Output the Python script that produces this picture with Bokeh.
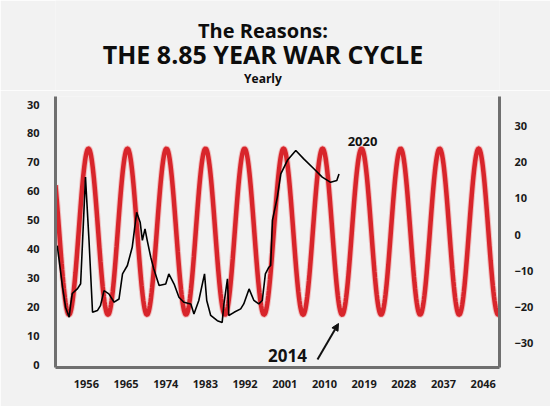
import numpy as np
from bokeh.plotting import figure
from bokeh.layouts import column
from bokeh.models import Range1d, LinearAxis, FixedTicker, Label, Arrow, NormalHead
from bokeh.embed import file_html
from bokeh.resources import INLINE

# ---- data ----
war_years = [1949.4, 1950.6, 1951.3, 1952.1, 1952.4, 1952.8, 1954.0, 1954.7, 1955.8, 1956.6,
             1957.4, 1958.5, 1959.2, 1960.0, 1961.1, 1962.3, 1963.4, 1964.2, 1965.3, 1966.4,
             1967.4, 1968.2, 1968.7, 1969.3, 1969.8, 1970.6, 1971.3, 1972.5, 1974.0, 1974.7,
             1975.9, 1977.0, 1978.1, 1979.7, 1980.4, 1981.5, 1982.8, 1983.3, 1984.2, 1985.7,
             1986.8, 1987.2, 1988.0, 1988.3, 1989.5, 1991.0, 1991.7, 1992.9, 1994.0, 1995.1,
             1995.9, 1996.6, 1997.4, 1997.8, 1998.2, 1999.3, 2000.1, 2001.6, 2003.5, 2005.3,
             2007.6, 2009.5, 2011.4, 2012.8, 2013.3]
war_index = [41.2, 26.8, 19.8, 16.4, 20.4, 24.6, 26.3, 28.0, 64.9, 43.0,
             18.1, 18.7, 20.4, 25.6, 24.5, 21.6, 22.7, 31.4, 34.3, 40.6,
             52.7, 49.3, 43.0, 47.0, 43.0, 37.2, 33.1, 27.4, 27.9, 31.4,
             27.9, 23.3, 21.6, 21.0, 17.5, 22.2, 31.4, 22.2, 17.0, 15.2,
             14.6, 21.0, 29.7, 17.0, 18.1, 19.3, 21.0, 26.2, 22.2, 21.0,
             22.2, 31.4, 33.7, 34.3, 49.9, 57.9, 66.0, 70.7, 74.1, 71.2,
             67.8, 64.9, 63.1, 63.7, 66.0]

cycle_period = 8.85        # years
cycle_trough_year = 2014.0
cycle_amplitude = 23.0
cycle_center = 0.8

x_ticks = [1956, 1965, 1974, 1983, 1992, 2001, 2010, 2019, 2028, 2037, 2046]
left_ticks = [0, 10, 20, 30, 40, 50, 60, 70, 80, 90]
left_tick_labels = {90: "30"}
right_ticks = [-30, -20, -10, 0, 10, 20, 30]

title1 = "The Reasons:"
title2 = "THE 8.85 YEAR WAR CYCLE"
subtitle = "Yearly"
note_2020 = "2020"
note_2014 = "2014"

# ---- layout ----
W, H = 550, 406
TH = 90                     # height of the title strip
FL, FR, FT, FB = 55, 499, 96, 367   # frame in page pixels
X0, X1 = 1949.0, 2049.7
Y0, Y1 = -1.0, 92.8
R0, R1 = -36.8, 38.2
BG = "#f2f2f2"
FONT = "Open Sans"

# ---- title strip ----
t = figure(width=W, height=TH, output_backend="svg", toolbar_location=None,
           x_range=Range1d(0, W), y_range=Range1d(TH, 0),
           min_border=0, background_fill_color=BG, border_fill_color=BG,
           outline_line_color=None)
t.axis.visible = False
t.grid.visible = False
for txt, xp, yp, size in [(title1, 257, 30, "20px"), (title2, 257, 53, "25px"),
                          (subtitle, 257, 78, "12px")]:
    t.add_layout(Label(x=xp, y=yp, text=txt, text_font=FONT, text_font_style="bold",
                       text_font_size=size, text_color="#0d0d0d",
                       text_align="center", text_baseline="middle"))

# ---- main chart ----
MH = H - TH
def px(xp):
    return X0 + (xp - FL) / (FR - FL) * (X1 - X0)

def py(yp):
    return Y0 + (FB - yp) / (FB - FT) * (Y1 - Y0)

p = figure(width=W, height=MH, output_backend="svg", toolbar_location=None,
           x_range=Range1d(X0, X1), y_range=Range1d(Y0, Y1),
           min_border_left=FL, min_border_right=W - FR,
           min_border_top=FT - TH, min_border_bottom=H - FB,
           background_fill_color=BG, border_fill_color=BG, outline_line_color=None)
p.xgrid.visible = False
p.ygrid.visible = False
p.extra_y_ranges = {"cycle": Range1d(R0, R1)}

tt = np.linspace(X0, X1, 800)
cyc = cycle_center - cycle_amplitude * np.cos(2 * np.pi * (tt - cycle_trough_year) / cycle_period)
p.line(tt, cyc, y_range_name="cycle", line_color="#ee7070", line_width=6.5, line_alpha=0.4)
p.line(tt, cyc, y_range_name="cycle", line_color="#d8252b", line_width=4.5)

p.line(war_years, war_index, line_color="#000000", line_width=1.6)

def style_axis(ax):
    ax.axis_line_color = "#6f6f6f"
    ax.axis_line_width = 3
    ax.major_tick_line_color = None
    ax.minor_tick_line_color = None
    ax.major_label_text_font = FONT
    ax.major_label_text_font_style = "bold"
    ax.major_label_text_font_size = "11px"
    ax.major_label_text_color = "#1a1a1a"

xa = p.xaxis[0]
xa.ticker = FixedTicker(ticks=x_ticks)
style_axis(xa)
xa.major_label_standoff = 6

ya = p.yaxis[0]
ya.ticker = FixedTicker(ticks=left_ticks)
ya.major_label_overrides = left_tick_labels
style_axis(ya)
ya.major_label_standoff = 10

ra = LinearAxis(y_range_name="cycle", ticker=FixedTicker(ticks=right_ticks))
style_axis(ra)
ra.major_label_standoff = 9
p.add_layout(ra, "right")

p.add_layout(Label(x=px(362), y=py(141), text=note_2020, text_font=FONT,
                   text_font_style="bold", text_font_size="13px", text_color="#111111",
                   text_align="center", text_baseline="middle"))
p.add_layout(Label(x=px(287), y=py(355), text=note_2014, text_font=FONT,
                   text_font_style="bold", text_font_size="17px", text_color="#111111",
                   text_align="center", text_baseline="middle"))

p.add_layout(Arrow(end=NormalHead(size=7, fill_color="#111111", line_color="#111111"),
                   x_start=px(317), y_start=py(359), x_end=px(338), y_end=py(323),
                   line_color="#111111", line_width=2))

open("out.html", "w").write(file_html(column(t, p, spacing=0), INLINE))
